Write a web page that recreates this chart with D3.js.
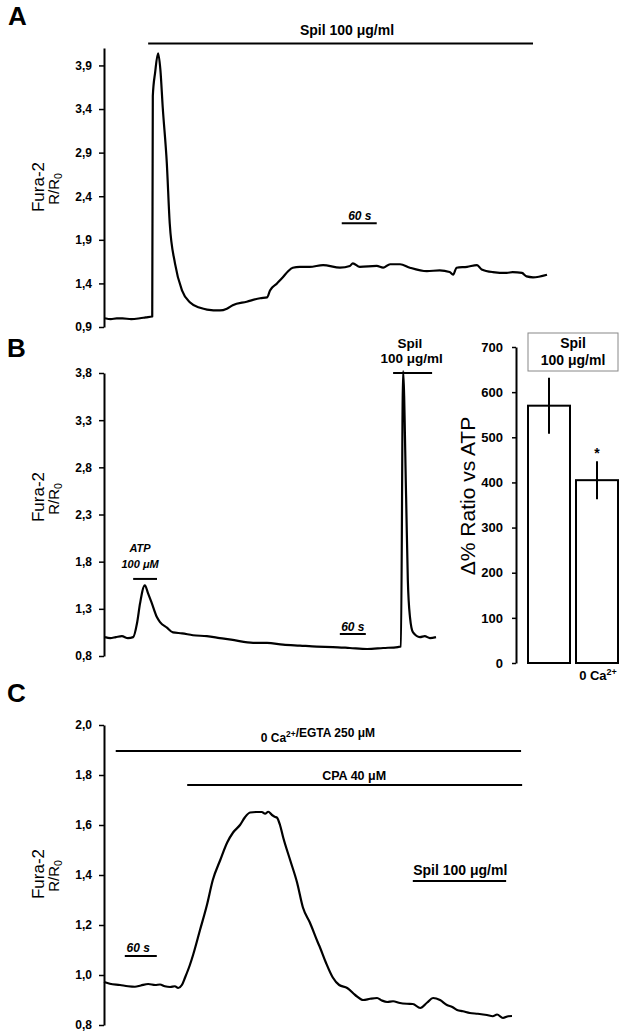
<!DOCTYPE html>
<html>
<head>
<meta charset="utf-8">
<script src="https://cdn.jsdelivr.net/npm/d3@7/dist/d3.min.js"></script>
<style>
  body { margin: 0; background: #fff; }
  svg { display: block; font-family: "Liberation Sans", Arial, sans-serif; }
</style>
</head>
<body>
<div id="chart"></div>
<script>
// ---- data (time in s, Fura-2 ratio R/R0) ----
var traceATime = [0, 10, 20, 30, 45, 60, 70, 81, 82, 86, 91, 95, 99, 106, 111, 120, 132, 146, 163, 175, 197, 209, 219, 243, 266, 278, 283, 295, 305, 314, 322, 334, 351, 374, 403, 420, 425, 437, 466, 477, 489, 506, 523, 552, 574, 591, 597, 603, 621, 638, 646, 665, 689, 699, 715, 723, 734, 758];
var traceAValue = [1.00, 0.99, 1.00, 1.00, 0.99, 1.00, 1.01, 1.02, 3.55, 3.82, 4.04, 3.85, 3.42, 2.78, 2.09, 1.63, 1.32, 1.18, 1.12, 1.10, 1.09, 1.11, 1.15, 1.19, 1.23, 1.24, 1.32, 1.40, 1.47, 1.54, 1.58, 1.59, 1.59, 1.61, 1.58, 1.60, 1.63, 1.59, 1.60, 1.58, 1.62, 1.62, 1.58, 1.54, 1.55, 1.53, 1.50, 1.58, 1.59, 1.61, 1.56, 1.53, 1.52, 1.53, 1.52, 1.48, 1.47, 1.50];

var traceBTime = [0, 12, 25, 39, 53, 65, 74, 81, 92, 99, 108, 120, 127, 143, 157, 178, 203, 235, 265, 295, 342, 374, 411, 450, 489, 526, 565, 605, 642, 676, 683, 688, 695, 699, 704, 711, 727, 738, 750, 764];
var traceBValue = [1.00, 0.99, 1.00, 1.01, 0.99, 1.00, 1.15, 1.36, 1.55, 1.47, 1.36, 1.21, 1.16, 1.10, 1.05, 1.04, 1.02, 1.01, 0.99, 0.97, 0.94, 0.94, 0.92, 0.91, 0.90, 0.895, 0.885, 0.874, 0.885, 0.895, 0.90, 3.82, 2.49, 1.60, 1.21, 1.05, 1.00, 1.01, 0.99, 1.00];

var traceCTime = [0, 11, 30, 45, 58, 69, 83, 96, 105, 114, 124, 133, 139, 146, 152, 161, 167, 180, 193, 204, 218, 231, 242, 255, 264, 274, 285, 296, 302, 308, 315, 321, 324, 330, 336, 349, 362, 373, 386, 401, 405, 416, 429, 441, 456, 471, 486, 499, 512, 521, 531, 542, 555, 568, 579, 593, 606, 617, 630, 643, 653, 662, 673, 686, 701, 718, 729, 737, 748, 758, 765];
var traceCValue = [0.972, 0.965, 0.96, 0.955, 0.953, 0.958, 0.964, 0.96, 0.962, 0.955, 0.952, 0.955, 0.948, 0.96, 0.99, 1.04, 1.08, 1.18, 1.28, 1.38, 1.46, 1.53, 1.57, 1.60, 1.63, 1.65, 1.652, 1.652, 1.645, 1.653, 1.64, 1.632, 1.63, 1.60, 1.55, 1.46, 1.37, 1.27, 1.21, 1.13, 1.11, 1.05, 0.99, 0.96, 0.948, 0.92, 0.90, 0.905, 0.908, 0.898, 0.892, 0.895, 0.888, 0.885, 0.884, 0.868, 0.89, 0.908, 0.90, 0.88, 0.872, 0.86, 0.855, 0.848, 0.845, 0.84, 0.835, 0.842, 0.828, 0.835, 0.836];

var ticksA = [0.9, 1.4, 1.9, 2.4, 2.9, 3.4, 3.9];
var ticksB = [0.8, 1.3, 1.8, 2.3, 2.8, 3.3, 3.8];
var ticksC = [0.8, 1.0, 1.2, 1.4, 1.6, 1.8, 2.0];

// bar chart (B, right)
var barCategories = ["Spil", "0 Ca"];
var barValues = [570, 405];
var barErrors = [62, 42];
var barTicks = [0, 100, 200, 300, 400, 500, 600, 700];

// application bars: [t start, t end, level]
var barsA = [[74, 734, 4.153], [406, 466, 2.09]];
var barsB = [[65, 120, 1.617], [665, 755, 3.80], [542, 602, 1.033]];
var barsC = [[22, 782, 1.896], [156, 784, 1.76], [579, 754, 1.376], [39, 99, 1.076]];

var W = 623, H = 1036;
var FONT = "'Liberation Sans', Arial, sans-serif";
var commaFmt = d3.formatLocale({decimal: ",", thousands: ".", grouping: [3], currency: ["", ""]}).format(".1f");

var svg = d3.select("#chart").append("svg")
	.attr("width", W)
	.attr("height", H);
svg.append("rect").attr("width", W).attr("height", H).attr("fill", "#fff");

// panel letters
[["A", 8, 25], ["B", 7, 357], ["C", 7, 702]].forEach(function(p){
	svg.append("text").attr("x", p[1]).attr("y", p[2])
		.attr("font-size", 26).attr("font-weight", "bold").text(p[0]);
});

function yLabel(cy){
	var g = svg.append("g").attr("transform", "translate(0," + cy + ") rotate(-90)");
	g.append("text").attr("x", 0).attr("y", 44).attr("text-anchor", "middle")
		.attr("font-size", 17).text("Fura-2");
	var t = g.append("text").attr("x", -2).attr("y", 58.5).attr("text-anchor", "middle")
		.attr("font-size", 15);
	t.append("tspan").text("R/R");
	t.append("tspan").attr("font-size", 10.5).attr("dy", 3.5).text("0");
}

function tracePanel(cfg){
	var x = d3.scaleLinear().domain(cfg.xDomain).range(cfg.xRange);
	var y = d3.scaleLinear().domain(cfg.yDomain).range(cfg.yRange);
	var g = svg.append("g");

	var ax = g.append("g")
		.attr("transform", "translate(" + cfg.axisX + ",0)")
		.call(d3.axisLeft(y).tickValues(cfg.ticks).tickFormat(commaFmt).tickSize(5).tickSizeOuter(0).tickPadding(7));
	ax.select(".domain").attr("stroke-width", 2);
	ax.selectAll(".tick line").attr("stroke-width", 1.5);
	ax.selectAll("text").attr("font-size", 12).attr("font-weight", "bold").attr("font-family", FONT);

	var pts = cfg.time.map(function(t, i){ return [t, cfg.value[i]]; });
	g.append("path")
		.datum(pts)
		.attr("fill", "none")
		.attr("stroke", "#000")
		.attr("stroke-width", 2.2)
		.attr("stroke-linejoin", "round")
		.attr("d", d3.line().curve(d3.curveMonotoneX)
			.x(function(d){ return x(d[0]); }).y(function(d){ return y(d[1]); }));

	g.selectAll("line.app").data(cfg.bars).enter().append("line")
		.attr("x1", function(d){ return x(d[0]); })
		.attr("x2", function(d){ return x(d[1]); })
		.attr("y1", function(d){ return y(d[2]); })
		.attr("y2", function(d){ return y(d[2]); })
		.attr("stroke", "#000").attr("stroke-width", 2);

	cfg.labels.forEach(function(l){
		var t = g.append("text")
			.attr("x", x(l.t)).attr("y", y(l.v))
			.attr("text-anchor", "middle")
			.attr("font-size", l.size || 12)
			.attr("font-weight", "bold")
			.attr("font-style", l.italic ? "italic" : null);
		l.parts.forEach(function(p){
			if(typeof p === "string") t.append("tspan").text(p);
			else t.append("tspan").attr("font-size", (l.size || 12)*0.7).attr("dy", p.dy).text(p.s);
		});
	});
}

// Panel A
tracePanel({
	xDomain: [0, 758], xRange: [105, 547],
	yDomain: [0.9, 4.1], yRange: [327, 48],
	axisX: 104, ticks: ticksA,
	time: traceATime, value: traceAValue, bars: barsA,
	labels: [
		{t: 415, v: 4.245, size: 14, parts: ["Spil 100 μg/ml"]},
		{t: 437, v: 2.126, size: 12, italic: true, parts: ["60 s"]}
	]
});
yLabel(187);

// Panel B (trace)
tracePanel({
	xDomain: [0, 764], xRange: [105, 436],
	yDomain: [0.8, 3.8], yRange: [656, 373],
	axisX: 104, ticks: ticksB,
	time: traceBTime, value: traceBValue, bars: barsB,
	labels: [
		{t: 81, v: 1.903, size: 11, italic: true, parts: ["ATP"]},
		{t: 81, v: 1.733, size: 11, italic: true, parts: ["100 μM"]},
		{t: 704, v: 4.06, size: 13.5, parts: ["Spil"]},
		{t: 708, v: 3.907, size: 13.5, parts: ["100 μg/ml"]},
		{t: 572, v: 1.065, size: 12, italic: true, parts: ["60 s"]}
	]
});
yLabel(497);

// Panel C
tracePanel({
	xDomain: [0, 765], xRange: [104, 512],
	yDomain: [0.8, 2.0], yRange: [1025, 725],
	axisX: 104, ticks: ticksC,
	time: traceCTime, value: traceCValue, bars: barsC,
	labels: [
		{t: 401, v: 1.932, size: 12, parts: ["0 Ca", {s: "2+", dy: -5}, {s: "", dy: 5}, "/EGTA 250 μM"]},
		{t: 469, v: 1.78, size: 12.5, parts: ["CPA 40 μM"]},
		{t: 668, v: 1.40, size: 14, parts: ["Spil 100 μg/ml"]},
		{t: 64, v: 1.092, size: 12, italic: true, parts: ["60 s"]}
	]
});
yLabel(874);

// Bar chart (B, right)
(function(){
	var yb = d3.scaleLinear().domain([0, 700]).range([663, 347]);
	var xb = d3.scaleBand().domain(barCategories).range([525, 621]).paddingInner(0.125).paddingOuter(0.0625);
	var g = svg.append("g");

	var ax = g.append("g").attr("transform", "translate(516,0)")
		.call(d3.axisLeft(yb).tickValues(barTicks).tickSize(4).tickSizeOuter(0).tickPadding(9));
	ax.select(".domain").attr("stroke-width", 2);
	ax.selectAll(".tick line").attr("stroke-width", 1.5);
	ax.selectAll("text").attr("font-size", 13).attr("font-weight", "bold").attr("font-family", FONT);

	g.selectAll("rect.bar").data(barValues).enter().append("rect")
		.attr("x", function(d, i){ return xb(barCategories[i]); })
		.attr("y", function(d){ return yb(d); })
		.attr("width", xb.bandwidth())
		.attr("height", function(d){ return yb(0) - yb(d); })
		.attr("fill", "#fff").attr("stroke", "#000").attr("stroke-width", 2);

	g.selectAll("line.err").data(barValues).enter().append("line")
		.attr("x1", function(d, i){ return xb(barCategories[i]) + xb.bandwidth()/2; })
		.attr("x2", function(d, i){ return xb(barCategories[i]) + xb.bandwidth()/2; })
		.attr("y1", function(d, i){ return yb(d + barErrors[i]); })
		.attr("y2", function(d, i){ return yb(d - barErrors[i]); })
		.attr("stroke", "#000").attr("stroke-width", 2);

	// significance star
	g.append("text")
		.attr("x", xb("0 Ca") + xb.bandwidth()/2)
		.attr("y", yb(barValues[1] + barErrors[1]) - 3)
		.attr("text-anchor", "middle").attr("font-size", 14).attr("font-weight", "bold").text("*");

	// category label
	var cl = g.append("text")
		.attr("x", xb("0 Ca") + xb.bandwidth()/2 + 1)
		.attr("y", 680).attr("text-anchor", "middle")
		.attr("font-size", 13).attr("font-weight", "bold");
	cl.append("tspan").text("0 Ca");
	cl.append("tspan").attr("font-size", 9).attr("dy", -5).text("2+");

	// boxed title
	var bx0 = xb("Spil"), bx1 = xb("0 Ca") + xb.bandwidth();
	g.append("rect").attr("x", bx0).attr("y", 333).attr("width", bx1 - bx0).attr("height", 38)
		.attr("fill", "#fff").attr("stroke", "#888").attr("stroke-width", 1);
	g.append("text").attr("x", (bx0 + bx1)/2).attr("y", 348).attr("text-anchor", "middle")
		.attr("font-size", 14).attr("font-weight", "bold").text("Spil");
	g.append("text").attr("x", (bx0 + bx1)/2).attr("y", 365).attr("text-anchor", "middle")
		.attr("font-size", 14).attr("font-weight", "bold").text("100 μg/ml");

	// y title
	g.append("text")
		.attr("transform", "translate(475,496) rotate(-90)")
		.attr("text-anchor", "middle")
		.attr("font-size", 21).text("Δ% Ratio vs ATP");
})();
</script>
</body>
</html>
